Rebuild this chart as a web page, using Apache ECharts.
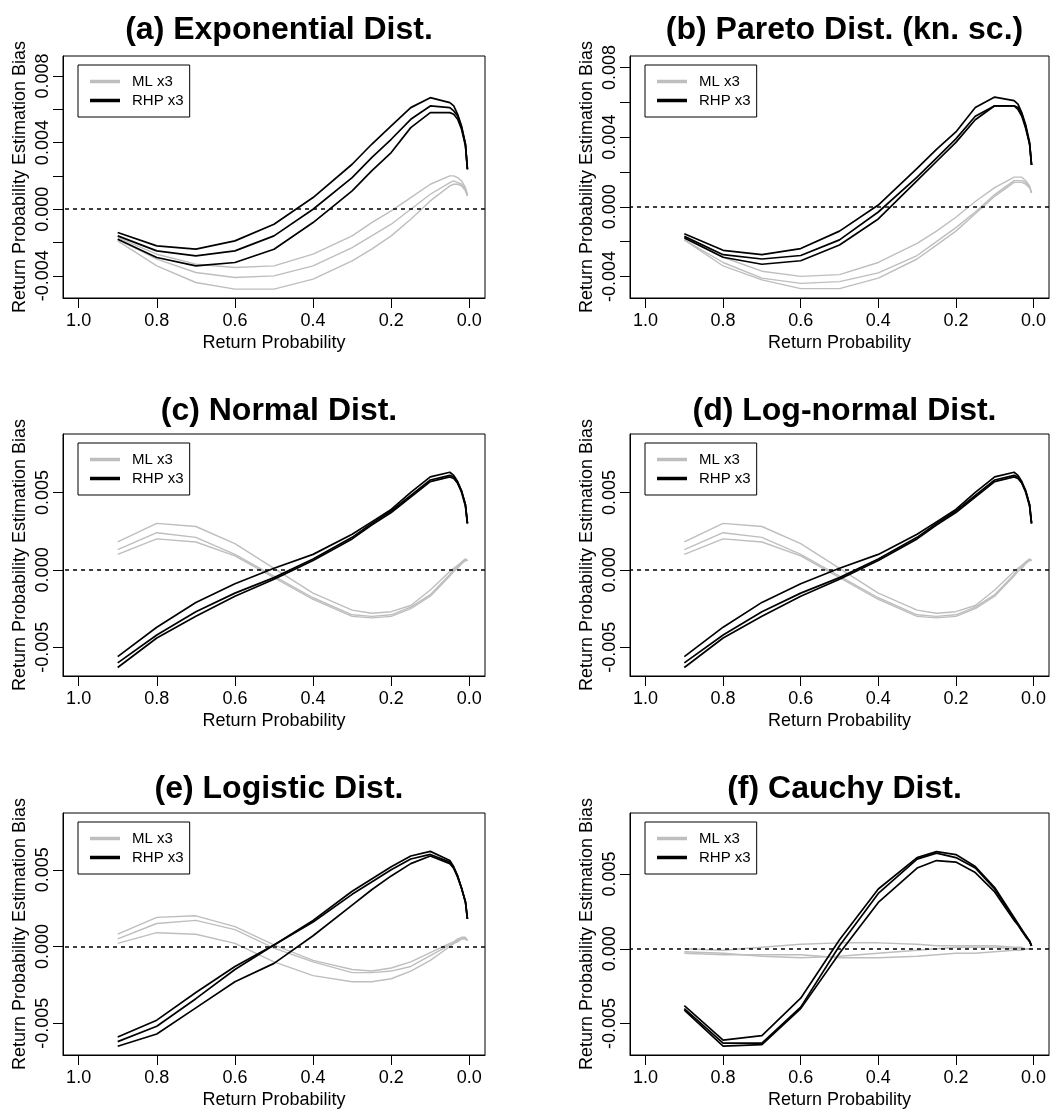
<!DOCTYPE html>
<html>
<head>
<meta charset="utf-8">
<script src="https://cdn.jsdelivr.net/npm/echarts@6/dist/echarts.min.js"></script>
<style>
html, body { margin: 0; background: #fff; }
#chart { width: 1063px; height: 1115px; }
</style>
</head>
<body>
<div id="chart"></div>
<script>
// return probabilities (x) shared by all curves
const probs = [0.9, 0.8, 0.7, 0.6, 0.5, 0.4, 0.3, 0.25, 0.2, 0.15, 0.1, 0.05, 0.04, 0.03, 0.02, 0.01, 0.005];

// (a) exponential
const expRHP1 = [-0.0014, -0.0022, -0.0024, -0.0019, -0.0009, 0.0007, 0.0027, 0.0039, 0.0050, 0.0061, 0.0067, 0.0064, 0.0062, 0.0057, 0.0050, 0.0039, 0.0024];
const expRHP2 = [-0.0016, -0.0025, -0.0028, -0.0025, -0.0016, 0.0000, 0.0019, 0.0031, 0.0042, 0.0054, 0.0062, 0.0061, 0.0059, 0.0056, 0.0049, 0.0039, 0.0024];
const expRHP3 = [-0.0018, -0.0029, -0.0034, -0.0032, -0.0024, -0.0008, 0.0011, 0.0023, 0.0034, 0.0049, 0.0058, 0.0058, 0.0057, 0.0054, 0.0048, 0.0038, 0.0024];
const expML1 = [-0.0017, -0.0027, -0.0033, -0.0035, -0.0034, -0.0027, -0.0016, -0.0008, -0.0001, 0.0007, 0.0015, 0.0020, 0.0020, 0.0019, 0.0017, 0.0013, 0.0009];
const expML2 = [-0.0018, -0.0030, -0.0038, -0.0041, -0.0040, -0.0034, -0.0023, -0.0016, -0.0009, 0.0000, 0.0009, 0.0016, 0.0017, 0.0016, 0.0015, 0.0012, 0.0008];
const expML3 = [-0.0019, -0.0034, -0.0044, -0.0048, -0.0048, -0.0042, -0.0031, -0.0024, -0.0016, -0.0006, 0.0005, 0.0014, 0.0015, 0.0015, 0.0014, 0.0011, 0.0008];

// (b) pareto, known scale
const parRHP1 = [-0.00155, -0.0025, -0.00275, -0.0024, -0.0014, 0.0001, 0.0022, 0.0033, 0.0043, 0.0057, 0.0063, 0.0061, 0.0059, 0.0054, 0.0047, 0.0037, 0.0024];
const parRHP2 = [-0.0017, -0.00275, -0.0030, -0.0028, -0.0019, -0.0003, 0.0017, 0.0028, 0.0039, 0.0052, 0.0058, 0.0058, 0.0057, 0.0053, 0.0046, 0.0036, 0.0024];
const parRHP3 = [-0.0018, -0.0029, -0.0033, -0.0031, -0.0022, -0.0007, 0.0015, 0.0026, 0.0037, 0.0050, 0.0058, 0.0058, 0.0056, 0.0052, 0.0045, 0.0036, 0.0024];
const parML1 = [-0.0017, -0.0029, -0.0037, -0.0040, -0.0039, -0.0032, -0.0021, -0.0014, -0.0006, 0.0003, 0.0011, 0.0017, 0.0017, 0.0017, 0.0015, 0.0012, 0.0008];
const parML2 = [-0.0019, -0.0032, -0.0041, -0.0044, -0.0043, -0.0038, -0.0028, -0.0020, -0.0012, -0.0003, 0.0007, 0.0015, 0.0015, 0.0015, 0.0014, 0.0011, 0.0008];
const parML3 = [-0.0019, -0.0034, -0.0042, -0.0047, -0.0047, -0.0041, -0.0030, -0.0022, -0.0014, -0.0004, 0.0006, 0.0014, 0.0014, 0.0014, 0.0013, 0.0011, 0.0008];

// (c) normal
const norRHP1 = [-0.0056, -0.0037, -0.0021, -0.0009, 0.0001, 0.0010, 0.0023, 0.0031, 0.0039, 0.0050, 0.0060, 0.0063, 0.0061, 0.0057, 0.0051, 0.0042, 0.0030];
const norRHP2 = [-0.0060, -0.0042, -0.0027, -0.0015, -0.0005, 0.0007, 0.0021, 0.0030, 0.0038, 0.0048, 0.0058, 0.0061, 0.0060, 0.0056, 0.0051, 0.0042, 0.0030];
const norRHP3 = [-0.0063, -0.0044, -0.0030, -0.0017, -0.0006, 0.0006, 0.0020, 0.0029, 0.0037, 0.0047, 0.0057, 0.0060, 0.0059, 0.0056, 0.0050, 0.0041, 0.0030];
const norML1 = [0.0018, 0.0030, 0.0028, 0.0017, 0.0001, -0.0015, -0.0026, -0.0028, -0.0027, -0.0023, -0.0013, -0.0001, 0.0001, 0.0003, 0.0005, 0.0007, 0.0006];
const norML2 = [0.0013, 0.0024, 0.0021, 0.0010, -0.0004, -0.0018, -0.0029, -0.0030, -0.0029, -0.0024, -0.0016, -0.0003, 0.0000, 0.0002, 0.0005, 0.0007, 0.0006];
const norML3 = [0.0010, 0.0020, 0.0018, 0.0009, -0.0005, -0.0019, -0.0030, -0.0031, -0.0030, -0.0025, -0.0017, -0.0004, -0.0001, 0.0001, 0.0004, 0.0006, 0.0006];

// (d) log-normal
const lnRHP1 = [-0.0056, -0.0037, -0.0021, -0.0009, 0.0001, 0.0010, 0.0023, 0.0031, 0.0039, 0.0050, 0.0060, 0.0063, 0.0061, 0.0057, 0.0051, 0.0042, 0.0030];
const lnRHP2 = [-0.0060, -0.0042, -0.0027, -0.0015, -0.0005, 0.0007, 0.0021, 0.0030, 0.0038, 0.0048, 0.0058, 0.0061, 0.0060, 0.0056, 0.0051, 0.0042, 0.0030];
const lnRHP3 = [-0.0063, -0.0044, -0.0030, -0.0017, -0.0006, 0.0006, 0.0020, 0.0029, 0.0037, 0.0047, 0.0057, 0.0060, 0.0059, 0.0056, 0.0050, 0.0041, 0.0030];
const lnML1 = [0.0018, 0.0030, 0.0028, 0.0017, 0.0001, -0.0015, -0.0026, -0.0028, -0.0027, -0.0023, -0.0013, -0.0001, 0.0001, 0.0003, 0.0005, 0.0007, 0.0006];
const lnML2 = [0.0013, 0.0024, 0.0021, 0.0010, -0.0004, -0.0018, -0.0029, -0.0030, -0.0029, -0.0024, -0.0016, -0.0003, 0.0000, 0.0002, 0.0005, 0.0007, 0.0006];
const lnML3 = [0.0010, 0.0020, 0.0018, 0.0009, -0.0005, -0.0019, -0.0030, -0.0031, -0.0030, -0.0025, -0.0017, -0.0004, -0.0001, 0.0001, 0.0004, 0.0006, 0.0006];

// (e) logistic
const logRHP1 = [-0.0059, -0.0048, -0.0030, -0.0013, 0.0001, 0.0017, 0.0036, 0.0044, 0.0052, 0.0059, 0.0062, 0.0056, 0.0052, 0.0046, 0.0038, 0.0029, 0.0018];
const logRHP2 = [-0.0062, -0.0052, -0.0034, -0.0015, 0.0001, 0.0016, 0.0034, 0.0042, 0.0050, 0.0057, 0.0060, 0.0055, 0.0051, 0.0046, 0.0038, 0.0029, 0.0018];
const logRHP3 = [-0.0065, -0.0057, -0.0040, -0.0023, -0.0011, 0.0007, 0.0027, 0.0037, 0.0046, 0.0054, 0.0059, 0.0054, 0.0051, 0.0045, 0.0038, 0.0029, 0.0018];
const logML1 = [0.0008, 0.0019, 0.0020, 0.0013, 0.0001, -0.0009, -0.0015, -0.0016, -0.0014, -0.0010, -0.0004, 0.0002, 0.0003, 0.0005, 0.0006, 0.0006, 0.0004];
const logML2 = [0.0005, 0.0015, 0.0017, 0.0011, -0.0001, -0.0010, -0.0017, -0.0017, -0.0016, -0.0013, -0.0006, 0.0001, 0.0002, 0.0004, 0.0005, 0.0005, 0.0004];
const logML3 = [0.0002, 0.0009, 0.0008, 0.0002, -0.0010, -0.0019, -0.0023, -0.0023, -0.0021, -0.0016, -0.0009, 0.0000, 0.0002, 0.0003, 0.0005, 0.0005, 0.0004];

// (f) cauchy
const cauRHP1 = [-0.0038, -0.0061, -0.0058, -0.0033, 0.0006, 0.0040, 0.0061, 0.0065, 0.0063, 0.0055, 0.0041, 0.0021, 0.0017, 0.0013, 0.0009, 0.0005, 0.0002];
const cauRHP2 = [-0.0040, -0.0063, -0.0063, -0.0039, 0.0002, 0.0037, 0.0060, 0.0064, 0.0061, 0.0054, 0.0040, 0.0020, 0.0016, 0.0012, 0.0009, 0.0005, 0.0002];
const cauRHP3 = [-0.0041, -0.0065, -0.0064, -0.0040, -0.0003, 0.0031, 0.0054, 0.0059, 0.0058, 0.0051, 0.0038, 0.0019, 0.0016, 0.0012, 0.0008, 0.0005, 0.0002];
const cauML1 = [0.0000, -0.0001, 0.0001, 0.0003, 0.0004, 0.0004, 0.0003, 0.0002, 0.0002, 0.0002, 0.0002, 0.0001, 0.0001, 0.0001, 0.0000, 0.0000, 0.0000];
const cauML2 = [-0.0002, -0.0003, -0.0005, -0.0006, -0.0005, -0.0003, -0.0001, 0.0000, 0.0001, 0.0001, 0.0001, 0.0000, 0.0000, 0.0000, 0.0000, 0.0000, 0.0000];
const cauML3 = [-0.0003, -0.0004, -0.0004, -0.0004, -0.0006, -0.0006, -0.0005, -0.0004, -0.0003, -0.0003, -0.0002, -0.0001, -0.0001, -0.0001, 0.0000, 0.0000, 0.0000];

// axis ticks
const xTicks = [0, 0.2, 0.4, 0.6, 0.8, 1.0];
const yTicksSmall = [-0.004, -0.002, 0, 0.002, 0.004, 0.006, 0.008];
const yLabelsSmall = [-0.004, 0, 0.004, 0.008];
const yTicksBig = [-0.005, 0, 0.005];

const panels = [
    {title: '(a) Exponential Dist.', ml: [expML1, expML2, expML3], rhp: [expRHP1, expRHP2, expRHP3], yMin: -0.00533, yMax: 0.0092, ticks: yTicksSmall, labels: yLabelsSmall},
    {title: '(b) Pareto Dist. (kn. sc.)', ml: [parML1, parML2, parML3], rhp: [parRHP1, parRHP2, parRHP3], yMin: -0.00524, yMax: 0.00866, ticks: yTicksSmall, labels: yLabelsSmall},
    {title: '(c) Normal Dist.', ml: [norML1, norML2, norML3], rhp: [norRHP1, norRHP2, norRHP3], yMin: -0.00685, yMax: 0.00877, ticks: yTicksBig, labels: yTicksBig},
    {title: '(d) Log-normal Dist.', ml: [lnML1, lnML2, lnML3], rhp: [lnRHP1, lnRHP2, lnRHP3], yMin: -0.00685, yMax: 0.00877, ticks: yTicksBig, labels: yTicksBig},
    {title: '(e) Logistic Dist.', ml: [logML1, logML2, logML3], rhp: [logRHP1, logRHP2, logRHP3], yMin: -0.00707, yMax: 0.0087, ticks: yTicksBig, labels: yTicksBig},
    {title: '(f) Cauchy Dist.', ml: [cauML1, cauML2, cauML3], rhp: [cauRHP1, cauRHP2, cauRHP3], yMin: -0.0071, yMax: 0.00908, ticks: yTicksBig, labels: yTicksBig}
];

// layout
const colLeft = [63, 630];
const colWidth = [422, 419];
const rowTop = [56, 434, 813];
const rowHeight = 242;
const titleTop = [9, 390, 768];
const font = '"Liberation Sans", Arial, Helvetica, sans-serif';
const gray = '#bebebe';

const option = {
    backgroundColor: '#fff',
    animation: false,
    title: [], legend: [], grid: [], xAxis: [], yAxis: [], series: []
};

panels.forEach((p, i) => {
    const c = i % 2;
    const r = Math.floor(i / 2);
    const left = colLeft[c];
    const top = rowTop[r];
    const w = colWidth[c];

    option.title.push({
        text: p.title,
        left: left + w / 2,
        top: titleTop[r],
        textAlign: 'center',
        textStyle: {fontFamily: font, fontSize: 32, fontWeight: 'bold', color: '#000', lineHeight: 32}
    });

    option.grid.push({
        left: left, top: top, width: w, height: rowHeight,
        show: true, borderColor: '#000', borderWidth: 1, backgroundColor: 'transparent',
        containLabel: false, outerBoundsMode: 'none'
    });

    option.xAxis.push({
        type: 'value', gridIndex: i, min: -0.04, max: 1.04, inverse: true,
        name: 'Return Probability', nameLocation: 'middle', nameGap: 36,
        nameTextStyle: {fontFamily: font, fontSize: 18, color: '#000'},
        axisLine: {show: true, onZero: false, lineStyle: {color: '#000', width: 1}},
        splitLine: {show: false},
        axisTick: {show: true, length: 10, customValues: xTicks, lineStyle: {color: '#000', width: 1}},
        axisLabel: {customValues: xTicks, formatter: v => v.toFixed(1), margin: 14, fontFamily: font, fontSize: 18, color: '#000'}
    });

    option.yAxis.push({
        type: 'value', gridIndex: i, min: p.yMin, max: p.yMax, position: 'left',
        name: 'Return Probability Estimation Bias', nameLocation: 'middle', nameGap: 34,
        nameTextStyle: {fontFamily: font, fontSize: 18, color: '#000'},
        axisLine: {show: true, onZero: false, lineStyle: {color: '#000', width: 1}},
        splitLine: {show: false},
        axisTick: {show: true, length: 10, customValues: p.ticks, lineStyle: {color: '#000', width: 1}},
        axisLabel: {customValues: p.labels, rotate: 90, formatter: v => v.toFixed(3), margin: 11, fontFamily: font, fontSize: 18, color: '#000'}
    });

    option.legend.push({
        data: ['ML x3', 'RHP x3'],
        left: left + 15, top: top + 9,
        orient: 'vertical', icon: 'rect', itemWidth: 30, itemHeight: 3.5, itemGap: 4,
        padding: [9, 6, 9, 12], borderColor: '#000', borderWidth: 1, borderRadius: 0,
        selectedMode: false,
        textStyle: {fontFamily: font, fontSize: 15, color: '#000', padding: [0, 0, 0, 7]}
    });

    p.ml.forEach(d => {
        option.series.push({
            name: 'ML x3', type: 'line', xAxisIndex: i, yAxisIndex: i,
            data: probs.map((x, k) => [x, d[k]]),
            symbol: 'none', showSymbol: false, silent: true, color: gray,
            lineStyle: {color: gray, width: 1.4}
        });
    });
    p.rhp.forEach((d, j) => {
        const s = {
            name: 'RHP x3', type: 'line', xAxisIndex: i, yAxisIndex: i,
            data: probs.map((x, k) => [x, d[k]]),
            symbol: 'none', showSymbol: false, silent: true, color: '#000',
            lineStyle: {color: '#000', width: 1.7}
        };
        if (j === 2) {
            // dotted zero reference line
            s.markLine = {
                silent: true, symbol: ['none', 'none'], label: {show: false},
                lineStyle: {color: '#000', width: 1.5, type: [4, 4]},
                data: [{yAxis: 0}]
            };
        }
        option.series.push(s);
    });
});

const myChart = echarts.init(document.getElementById('chart'));
myChart.setOption(option);
</script>
</body>
</html>
